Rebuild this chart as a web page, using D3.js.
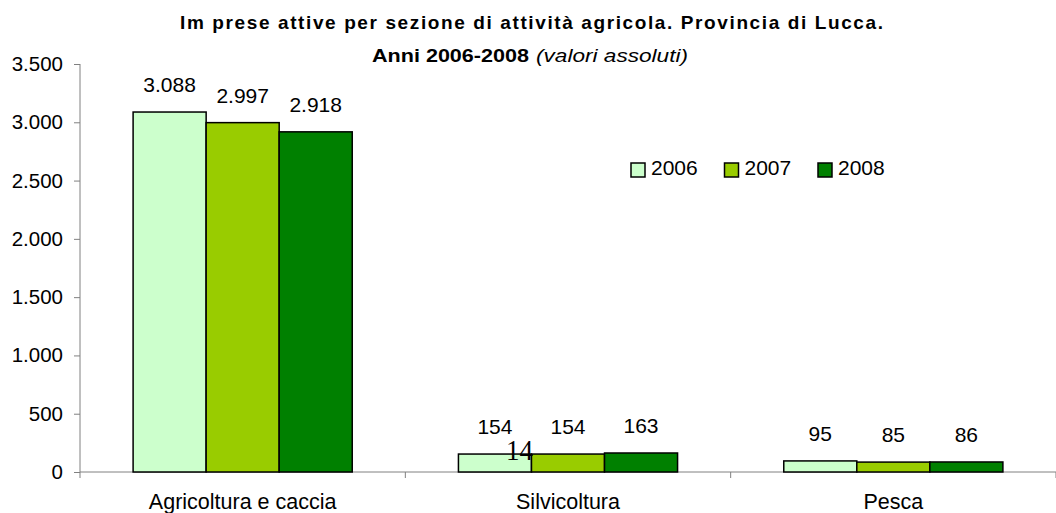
<!DOCTYPE html>
<html>
<head>
<meta charset="utf-8">
<script src="https://cdn.jsdelivr.net/npm/d3@7"></script>
<style>
  body { margin: 0; background: #fff; }
  text { font-family: "Liberation Sans", Arial, sans-serif; fill: #000; }
</style>
</head>
<body>
<div id="chart"></div>
<script>
// data
var categories = ['Agricoltura e caccia', 'Silvicoltura', 'Pesca'],
    years = ['2006', '2007', '2008'],
    values2006 = [3088, 154, 95],
    values2007 = [2997, 154, 85],
    values2008 = [2918, 163, 86],
    yTicks = [0, 500, 1000, 1500, 2000, 2500, 3000, 3500],
    colors = ['#CCFFCC', '#99CC00', '#008000'];

var width = 1056, height = 513,
    margin = {top: 64, left: 80, right: 0, bottom: 41};

var it = d3.formatLocale({decimal: ',', thousands: '.', grouping: [3], currency: ['€', '']});
var fmt = it.format(',d');

var series = [values2006, values2007, values2008];
var rows = categories.map(function(c, i) {
  return {cat: c, vals: years.map(function(y, j) { return {year: y, i: j, v: series[j][i]}; })};
});

var svg = d3.select('#chart').append('svg')
    .attr('width', width).attr('height', height);

var x0 = d3.scaleBand()
    .domain(categories)
    .range([margin.left, width - margin.right])
    .padding(0);

var x1 = d3.scaleBand()
    .domain(years)
    .range([0, x0.bandwidth()])
    .paddingInner(0)
    .paddingOuter(0.727);

var y = d3.scaleLinear()
    .domain([0, 3500])
    .range([height - margin.bottom, margin.top]);

// y axis
var yAxis = d3.axisLeft(y).tickValues(yTicks).tickFormat(fmt).tickSize(6).tickPadding(11);
var gy = svg.append('g').attr('transform', 'translate(' + margin.left + ',0)').call(yAxis);
gy.select('.domain').attr('stroke', '#808080').attr('d', 'M0,' + y(3500) + 'V' + y(0));
gy.selectAll('.tick line').attr('stroke', '#808080');
gy.selectAll('.tick text').style('font-size', '20.5px').style('font-family', '"Liberation Sans", Arial, sans-serif');

// x axis: ticks on category boundaries
var bounds = categories.map(function(c) { return x0(c); }).concat([width - margin.right]);
var gx = svg.append('g').attr('transform', 'translate(0,' + y(0) + ')');
gx.append('line').attr('x1', margin.left).attr('x2', width - margin.right)
  .attr('stroke', '#808080');
gx.selectAll('.bt').data(bounds).enter().append('line')
  .attr('x1', function(d) { return d; }).attr('x2', function(d) { return d; })
  .attr('y1', 0).attr('y2', 6).attr('stroke', '#808080');
gx.selectAll('.cl').data(categories).enter().append('text')
  .attr('x', function(d) { return x0(d) + x0.bandwidth() / 2; })
  .attr('y', 37)
  .attr('text-anchor', 'middle')
  .style('font-size', '21.5px')
  .text(function(d) { return d; });

// bars
var groups = svg.selectAll('.grp').data(rows).enter().append('g')
  .attr('transform', function(d) { return 'translate(' + x0(d.cat) + ',0)'; });

groups.selectAll('rect').data(function(d) { return d.vals; }).enter().append('rect')
  .attr('x', function(d) { return x1(d.year); })
  .attr('y', function(d) { return y(d.v); })
  .attr('width', x1.bandwidth())
  .attr('height', function(d) { return y(0) - y(d.v); })
  .attr('fill', function(d) { return colors[d.i]; })
  .attr('stroke', '#000').attr('stroke-width', 1.5);

groups.selectAll('.lbl').data(function(d) { return d.vals; }).enter().append('text')
  .attr('x', function(d) { return x1(d.year) + x1.bandwidth() / 2; })
  .attr('y', function(d) { return y(d.v) - 20; })
  .attr('text-anchor', 'middle')
  .style('font-size', '21px')
  .text(function(d) { return fmt(d.v); });

// stray label that sits in the original picture
svg.append('text').attr('x', 506).attr('y', 460)
  .attr('textLength', 27).attr('lengthAdjust', 'spacingAndGlyphs')
  .style('font-family', '"Liberation Serif", "Times New Roman", serif')
  .style('font-size', '29px').text('14');

// legend
var legend = svg.selectAll('.leg').data(years).enter().append('g')
  .attr('transform', function(d, i) { return 'translate(' + (631 + i * 93.5) + ',163)'; });
legend.append('rect').attr('width', 14).attr('height', 14)
  .attr('fill', function(d, i) { return colors[i]; })
  .attr('stroke', '#000').attr('stroke-width', 1.5);
legend.append('text').attr('x', 20).attr('y', 12)
  .style('font-size', '21px').text(function(d) { return d; });

// title
svg.append('text').attr('x', 180).attr('y', 29)
  .attr('textLength', 703).attr('lengthAdjust', 'spacing')
  .style('font-size', '19px').style('font-weight', 'bold')
  .text('Im prese attive per sezione di attività agricola. Provincia di Lucca.');
svg.append('text').attr('x', 372).attr('y', 62)
  .attr('textLength', 157).attr('lengthAdjust', 'spacingAndGlyphs')
  .style('font-size', '18px').style('font-weight', 'bold')
  .text('Anni 2006-2008');
svg.append('text').attr('x', 536).attr('y', 62)
  .attr('textLength', 152).attr('lengthAdjust', 'spacingAndGlyphs')
  .style('font-size', '18px').style('font-style', 'italic')
  .text('(valori assoluti)');
</script>
</body>
</html>
